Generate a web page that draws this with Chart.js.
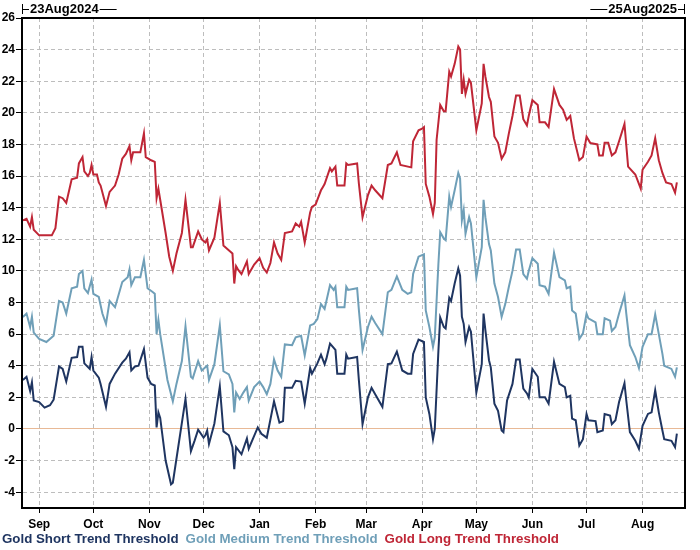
<!DOCTYPE html>
<html>
<head>
<meta charset="utf-8">
<title>Gold Trend Thresholds</title>
<script src="https://cdn.jsdelivr.net/npm/chart.js@4.4.1/dist/chart.umd.min.js"></script>
<style>
  body { margin: 0; background: #fff; }
  #wrap { width: 700px; height: 550px; }
</style>
</head>
<body>
<div id="wrap"><canvas id="chart" width="700" height="550"></canvas></div>
<script>
// Dates: x values are days counted from startDate
const startDate = "2024-08-23"
const startLabel = "23Aug2024"
const endLabel = "25Aug2025"
const monthStarts = ["2024-09-01", "2024-10-01", "2024-11-01", "2024-12-01", "2025-01-01", "2025-02-01",
  "2025-03-01", "2025-04-01", "2025-05-01", "2025-06-01", "2025-07-01", "2025-08-01"]
const monthLabels = ["Sep", "Oct", "Nov", "Dec", "Jan", "Feb", "Mar", "Apr", "May", "Jun", "Jul", "Aug"]
const yTicks = [-4, -2, 0, 2, 4, 6, 8, 10, 12, 14, 16, 18, 20, 22, 24, 26]

const seriesNames = ["Gold Short Trend Threshold", "Gold Medium Trend Threshold", "Gold Long Trend Threshold"]

const shortDays = [0,2,4,5,6,9,12,15,17,20,22,24,27,30,31,33,34,37,38,39,42,43,46,48,51,55,57,59,60,62,
  64,67,69,71,73,74,75,76,79,82,83,90,93,95,97,100,101,102,103,106,109,111,114,116,117,118,121,124,125,130,
  132,135,139,142,144,145,149,151,154,156,159,160,163,165,167,168,170,173,174,178,179,180,185,186,188,191,193,195,199,202,
  204,207,210,213,215,216,219,222,223,225,227,228,230,231,233,234,236,237,239,241,242,243,244,245,247,248,251,254,255,256,
  258,259,261,263,265,266,268,271,273,275,277,279,280,282,285,286,289,291,294,297,300,301,303,304,306,308,310,312,313,317,
  318,321,322,325,326,328,330,333,334,336,339,341,343,346,348,350,352,354,355,359,361,362]
const shortValues = [3.1,3.3,2.4,2.95,1.8,1.7,1.35,1.5,1.85,3.95,3.8,3.0,4.5,4.55,5.2,5.2,4.15,3.8,4.55,3.7,
  3.25,2.85,1.4,2.85,3.5,4.2,4.45,4.85,3.7,3.95,4.0,5.05,3.25,2.85,2.75,0.1,1.05,0.7,-2.0,-3.5,
  -3.4,1.9,-1.4,-0.75,-0.05,-0.55,-0.4,-0.1,-0.95,0.35,2.7,-0.15,-0.4,-1.15,-2.55,-1.15,-1.6,-0.6,-1.25,0.1,
  -0.3,-0.55,1.75,0.4,0.5,2.6,2.6,3.05,3.0,1.6,3.85,3.5,4.15,4.7,4.1,4.45,5.4,5.0,3.5,3.5,
  4.7,4.45,4.55,3.05,0.3,2.0,2.6,2.2,1.4,4.1,4.15,4.9,3.7,3.5,3.5,4.75,5.65,5.5,2.0,0.95,
  -0.65,0.0,4.95,7.05,6.45,6.35,8.3,8.1,9.2,10.15,9.7,7.1,6.65,5.5,6.45,6.15,2.3,4.1,7.3,6.25,
  4.35,3.9,1.6,1.15,-0.1,-0.2,1.8,2.85,4.4,4.4,2.55,2.25,2.0,3.8,3.3,2.0,2.0,1.6,4.25,2.85,
  2.65,2.0,2.1,0.65,0.55,-1.05,-0.65,0.95,0.55,0.5,-0.2,-0.1,0.95,0.85,0.3,0.55,1.7,2.9,1.8,-0.2,
  -0.75,-1.25,0.2,0.95,1.05,2.45,1.05,-0.1,-0.65,-0.75,-1.15,-0.3]

const mediumDays = [0,2,4,5,6,9,13,17,20,22,24,27,30,31,33,34,36,38,39,42,44,46,48,51,55,58,59,60,62,65,
  67,69,72,73,74,75,76,80,83,85,88,90,93,94,97,99,101,102,103,106,109,111,114,116,117,118,120,122,124,125,
  128,131,133,135,137,139,141,143,145,149,151,154,156,159,161,163,165,167,168,170,172,173,174,178,179,180,185,186,188,191,
  193,195,199,202,204,207,210,213,215,216,219,222,223,225,227,228,230,231,233,234,236,237,239,241,242,243,244,245,247,248,
  251,254,255,256,258,259,261,263,265,267,269,271,273,275,277,279,280,282,285,286,289,291,294,297,300,301,303,304,306,308,
  310,312,313,317,318,321,322,325,326,328,330,333,334,336,339,341,343,346,348,350,352,354,355,359,361,362]
const mediumValues = [7.08,7.3,6.45,7.1,6.1,5.7,5.5,5.9,8.1,8.0,7.3,8.9,9.0,9.8,10.0,8.9,8.6,9.45,8.55,8.35,
  7.3,6.65,8.1,7.7,9.3,9.6,10.1,9.1,9.6,9.6,10.7,8.9,8.65,8.55,6.0,6.9,6.0,3.1,1.75,2.85,
  4.3,6.5,3.3,3.2,4.3,3.7,3.9,4.0,3.1,4.1,6.55,3.65,3.45,2.85,1.05,2.3,1.9,2.3,2.65,1.8,
  2.65,3.0,2.65,2.2,2.85,4.4,3.7,3.3,5.35,5.3,5.8,5.9,4.65,6.55,6.65,6.95,7.9,7.6,8.1,9.1,
  8.8,9.0,7.7,7.7,9.0,8.8,8.9,7.5,5.0,6.45,7.1,6.7,6.0,8.65,8.8,9.65,8.8,8.55,8.65,9.8,
  10.9,11.05,7.5,6.45,5.2,5.8,10.45,12.45,12.05,11.95,14.7,14.05,15.1,16.2,15.85,13.2,13.85,12.35,13.4,13.0,
  9.6,11.5,14.5,13.4,11.7,11.3,9.2,8.35,7.1,7.9,9.0,10.0,11.35,11.35,9.8,9.5,10.0,10.8,10.45,9.1,
  9.0,8.55,11.15,9.6,9.4,8.9,9.0,7.5,7.3,5.7,6.05,7.3,7.0,6.75,6.0,6.0,7.0,6.85,6.2,6.45,
  7.3,8.45,7.3,5.3,4.55,3.85,5.2,6.0,6.0,7.25,6.0,4.75,4.0,3.8,3.3,3.9]

const longDays = [0,2,4,5,6,9,16,18,20,22,24,27,30,31,33,34,36,37,38,39,41,42,43,46,48,51,53,55,57,59,
  60,61,65,67,68,71,73,74,75,76,79,81,83,85,88,90,93,94,97,99,101,102,103,106,109,111,113,116,117,118,
  119,121,124,125,128,131,133,135,137,139,141,143,145,149,151,153,154,156,159,160,162,165,166,167,170,171,173,174,178,179,
  180,185,186,188,191,193,195,199,202,204,207,209,215,216,219,221,222,223,225,227,228,229,231,233,234,236,237,239,241,242,
  243,244,245,247,248,251,254,255,256,258,259,261,263,265,267,269,271,273,275,277,279,280,282,285,286,289,291,294,297,299,
  301,303,305,308,310,312,314,318,319,321,322,324,326,328,330,333,335,339,342,343,346,348,350,352,354,356,359,361,362]
const longValues = [13.2,13.3,12.8,13.4,12.6,12.25,12.25,12.7,14.7,14.6,14.3,15.8,15.9,16.8,17.2,16.3,16.0,16.2,16.7,16.1,
  16.1,15.6,15.4,14.1,15.0,15.4,16.1,17.1,17.4,17.9,17.0,17.5,17.5,18.7,17.2,17.0,16.9,14.6,15.2,14.5,
  12.4,10.9,10.0,11.1,12.4,14.5,11.5,11.5,12.5,12.0,11.8,12.0,11.3,12.1,14.3,11.6,11.4,11.1,9.2,10.3,
  10.1,9.8,10.6,9.8,10.4,10.8,10.2,9.9,10.5,11.8,11.1,10.7,12.4,12.5,13.0,12.8,13.1,11.8,13.7,14.05,
  14.2,15.1,15.3,15.5,16.5,16.3,16.6,15.4,15.4,16.8,16.7,16.8,15.5,13.4,14.8,15.4,15.1,14.6,16.7,16.8,
  17.5,16.7,16.55,18.2,18.9,19.0,19.1,15.5,14.7,13.6,14.3,18.3,20.5,20.1,20.1,22.6,22.3,23.1,24.2,24.0,
  21.2,22.1,21.2,22.1,21.9,18.9,20.6,23.1,22.3,21.0,20.7,18.5,18.1,17.1,17.5,18.7,19.8,21.1,21.1,19.6,
  19.2,19.8,20.8,20.5,19.4,19.4,19.1,21.5,20.5,20.2,19.55,19.8,18.4,17.0,17.2,18.5,18.1,18.0,17.3,17.3,
  18.1,18.1,17.3,17.5,18.2,19.3,16.6,16.1,15.2,16.4,16.9,17.3,18.4,17.0,16.2,15.6,15.5,14.95,15.6]

const colors = ["#1f3561", "#6f9fb8", "#bf2636"]
const FONT = "Arial, 'Liberation Sans', sans-serif"

function dayOffset(dateStr) {
  return Math.round((Date.parse(dateStr) - Date.parse(startDate)) / 86400000)
}
const monthDays = monthStarts.map(dayOffset)
const endDay = dayOffset("2025-08-25")

function toPoints(days, values) {
  return days.map((d, i) => ({ x: d, y: values[i] }))
}

// cadre du graphique + textes en haut et legende en bas
const decorPlugin = {
  id: "decor",
  afterDatasetsDraw(chart) {
    const { ctx, chartArea: a } = chart
    ctx.save()
    ctx.strokeStyle = "#000"
    ctx.lineWidth = 2
    ctx.strokeRect(a.left, a.top, a.right - a.left, a.bottom - a.top)
    ctx.restore()
  },
  afterDraw(chart) {
    const { ctx, chartArea: a } = chart
    ctx.save()
    ctx.font = "bold 13px " + FONT
    ctx.fillStyle = "#000"
    ctx.strokeStyle = "#000"
    ctx.lineWidth = 1
    ctx.textBaseline = "middle"
    const ty = 9.5

    // date de debut
    let w = ctx.measureText(startLabel).width
    ctx.beginPath()
    ctx.moveTo(a.left + 0.5, 4); ctx.lineTo(a.left + 0.5, 14)
    ctx.moveTo(a.left, ty); ctx.lineTo(a.left + 7, ty)
    ctx.moveTo(a.left + 9 + w, ty); ctx.lineTo(a.left + 26 + w, ty)
    ctx.stroke()
    ctx.textAlign = "left"
    ctx.fillText(startLabel, a.left + 8, ty)

    // date de fin
    w = ctx.measureText(endLabel).width
    ctx.beginPath()
    ctx.moveTo(a.right - 0.5, 4); ctx.lineTo(a.right - 0.5, 14)
    ctx.moveTo(a.right, ty); ctx.lineTo(a.right - 7, ty)
    ctx.moveTo(a.right - 9 - w, ty); ctx.lineTo(a.right - 26 - w, ty)
    ctx.stroke()
    ctx.textAlign = "right"
    ctx.fillText(endLabel, a.right - 8, ty)

    // legende
    ctx.font = "bold 13.3px " + FONT
    ctx.textAlign = "left"
    let x = 2
    seriesNames.forEach((name, i) => {
      ctx.fillStyle = colors[i]
      ctx.fillText(name, x, 539.5)
      x += ctx.measureText(name).width + 7
    })
    ctx.restore()
  },
}

const ctx = document.getElementById("chart").getContext("2d")
new Chart(ctx, {
  type: "line",
  data: {
    datasets: [
      { label: seriesNames[2], data: toPoints(longDays, longValues), borderColor: colors[2] },
      { label: seriesNames[1], data: toPoints(mediumDays, mediumValues), borderColor: colors[1] },
      { label: seriesNames[0], data: toPoints(shortDays, shortValues), borderColor: colors[0] },
    ],
  },
  options: {
    responsive: false,
    animation: false,
    layout: { padding: { top: 18, right: 15, left: 0, bottom: 0 } },
    elements: {
      line: { borderWidth: 2, tension: 0, fill: false },
      point: { radius: 0, hoverRadius: 0 },
    },
    plugins: {
      legend: { display: false },
      tooltip: { enabled: false },
    },
    scales: {
      x: {
        type: "linear",
        min: -0.5,
        max: endDay - 0.5,
        afterBuildTicks: (axis) => {
          axis.ticks = monthDays.map((d) => ({ value: d }))
        },
        afterFit: (scale) => {
          scale.height = 42
        },
        ticks: {
          autoSkip: false,
          maxRotation: 0,
          padding: 4,
          color: "#000",
          font: { family: FONT, size: 12, weight: "bold" },
          callback: (value) => monthLabels[monthDays.indexOf(value)],
        },
        grid: {
          color: "#bdbdbd",
          lineWidth: 1,
          tickLength: 5,
          tickColor: "#000",
          tickWidth: 1,
        },
        border: { display: true, color: "#000", width: 2, dash: [4, 3] },
      },
      y: {
        min: -5,
        max: 26,
        afterBuildTicks: (axis) => {
          axis.ticks = yTicks.map((v) => ({ value: v }))
        },
        afterFit: (scale) => {
          scale.width = 22
        },
        ticks: {
          padding: 1,
          color: "#000",
          font: { family: FONT, size: 12, weight: "bold" },
        },
        grid: {
          color: (c) => (c.tick && c.tick.value === 0 ? "#e8b996" : "#bdbdbd"),
          lineWidth: 1,
          tickLength: 6,
          tickColor: "#000",
          tickWidth: 1,
        },
        border: {
          display: true,
          color: "#000",
          width: 2,
          dash: (c) => (c.tick && c.tick.value === 0 ? [] : [4, 3]),
        },
      },
    },
  },
  plugins: [decorPlugin],
})
</script>
</body>
</html>
